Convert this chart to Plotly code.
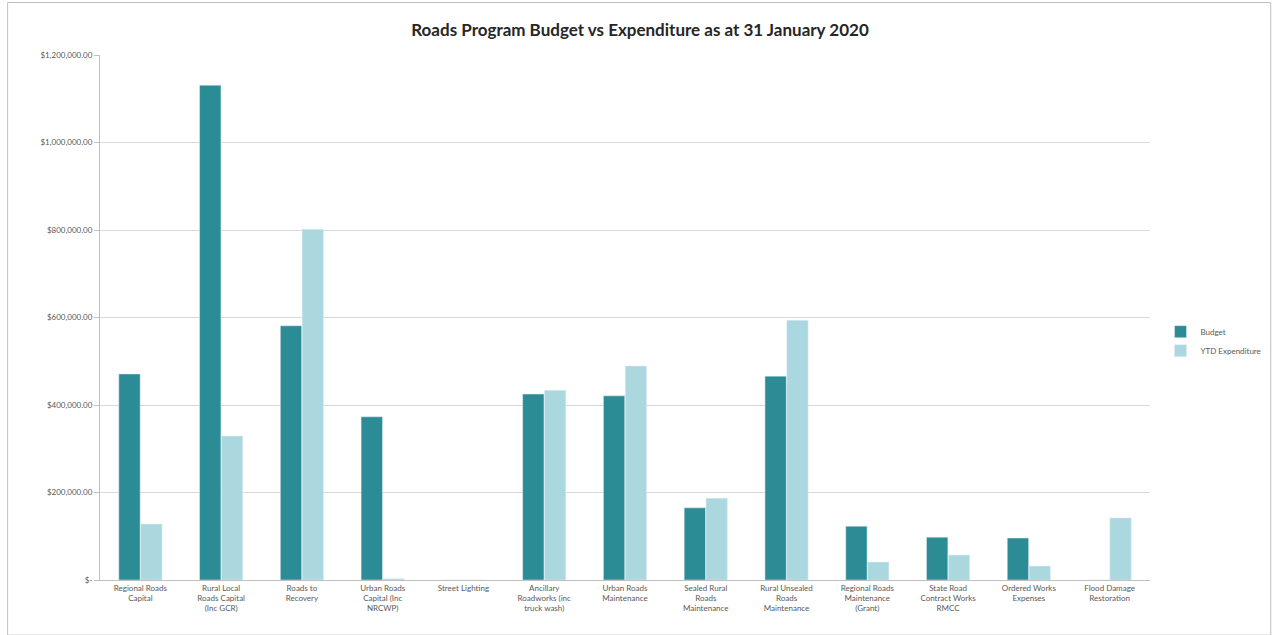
import plotly.graph_objects as go

categories = [
    "Regional Roads<br>Capital",
    "Rural Local<br>Roads Capital<br>(Inc GCR)",
    "Roads to<br>Recovery",
    "Urban Roads<br>Capital (Inc<br>NRCWP)",
    "Street Lighting",
    "Ancillary<br>Roadworks (inc<br>truck wash)",
    "Urban Roads<br>Maintenance",
    "Sealed Rural<br>Roads<br>Maintenance",
    "Rural Unsealed<br>Roads<br>Maintenance",
    "Regional Roads<br>Maintenance<br>(Grant)",
    "State Road<br>Contract Works<br>RMCC",
    "Ordered Works<br>Expenses",
    "Flood Damage<br>Restoration",
]
budget = [471000, 1131000, 581000, 373000, 0, 425000, 421000, 165000, 466000, 123000, 98000, 96000, 0]
ytd = [128000, 329000, 802000, 3000, 0, 434000, 489000, 187000, 594000, 41000, 57000, 32000, 142000]
tick_vals = [0, 200000, 400000, 600000, 800000, 1000000, 1200000]
tick_text = ["$-", "$200,000.00", "$400,000.00", "$600,000.00", "$800,000.00", "$1,000,000.00", "$1,200,000.00"]

fig = go.Figure()
fig.add_trace(go.Bar(name="Budget", x=categories, y=budget, marker_color="#2B8C95"))
fig.add_trace(go.Bar(name="YTD Expenditure", x=categories, y=ytd, marker_color="#AAD8DE"))

fig.update_layout(
    width=1280, height=635,
    barmode="group", bargap=0.46, bargroupgap=0.02,
    paper_bgcolor="white", plot_bgcolor="white",
    font=dict(family="Lato, Open Sans, sans-serif", color="#595959", size=8),
    title=dict(text="<b>Roads Program Budget vs Expenditure as at 31 January 2020</b>",
               x=0.5, xanchor="center", y=0.952, yanchor="middle",
               font=dict(size=17, color="#262626", family="Lato, Open Sans, sans-serif")),
    margin=dict(l=100, r=130, t=55, b=55),
    legend=dict(x=1.01, y=0.455, xanchor="left", yanchor="middle",
                font=dict(size=8, color="#595959"), itemwidth=30, tracegroupgap=4),
    yaxis=dict(range=[0, 1200000], tickvals=tick_vals, ticktext=tick_text,
               showgrid=True, gridcolor="#D9D9D9", gridwidth=1,
               zeroline=False, showline=True, linecolor="#BFBFBF",
               ticks="outside", ticklen=5, tickcolor="#BFBFBF",
               tickfont=dict(size=8, color="#595959")),
    xaxis=dict(showline=True, linecolor="#BFBFBF", ticks="", tickangle=0,
               tickfont=dict(size=8, color="#595959")),
    shapes=[dict(type="rect", xref="paper", yref="paper", x0=-0.088, x1=1.115, y0=-0.105, y1=1.1,
                 line=dict(color="#BFBFBF", width=1))],
)

fig.write_html("out.html")
